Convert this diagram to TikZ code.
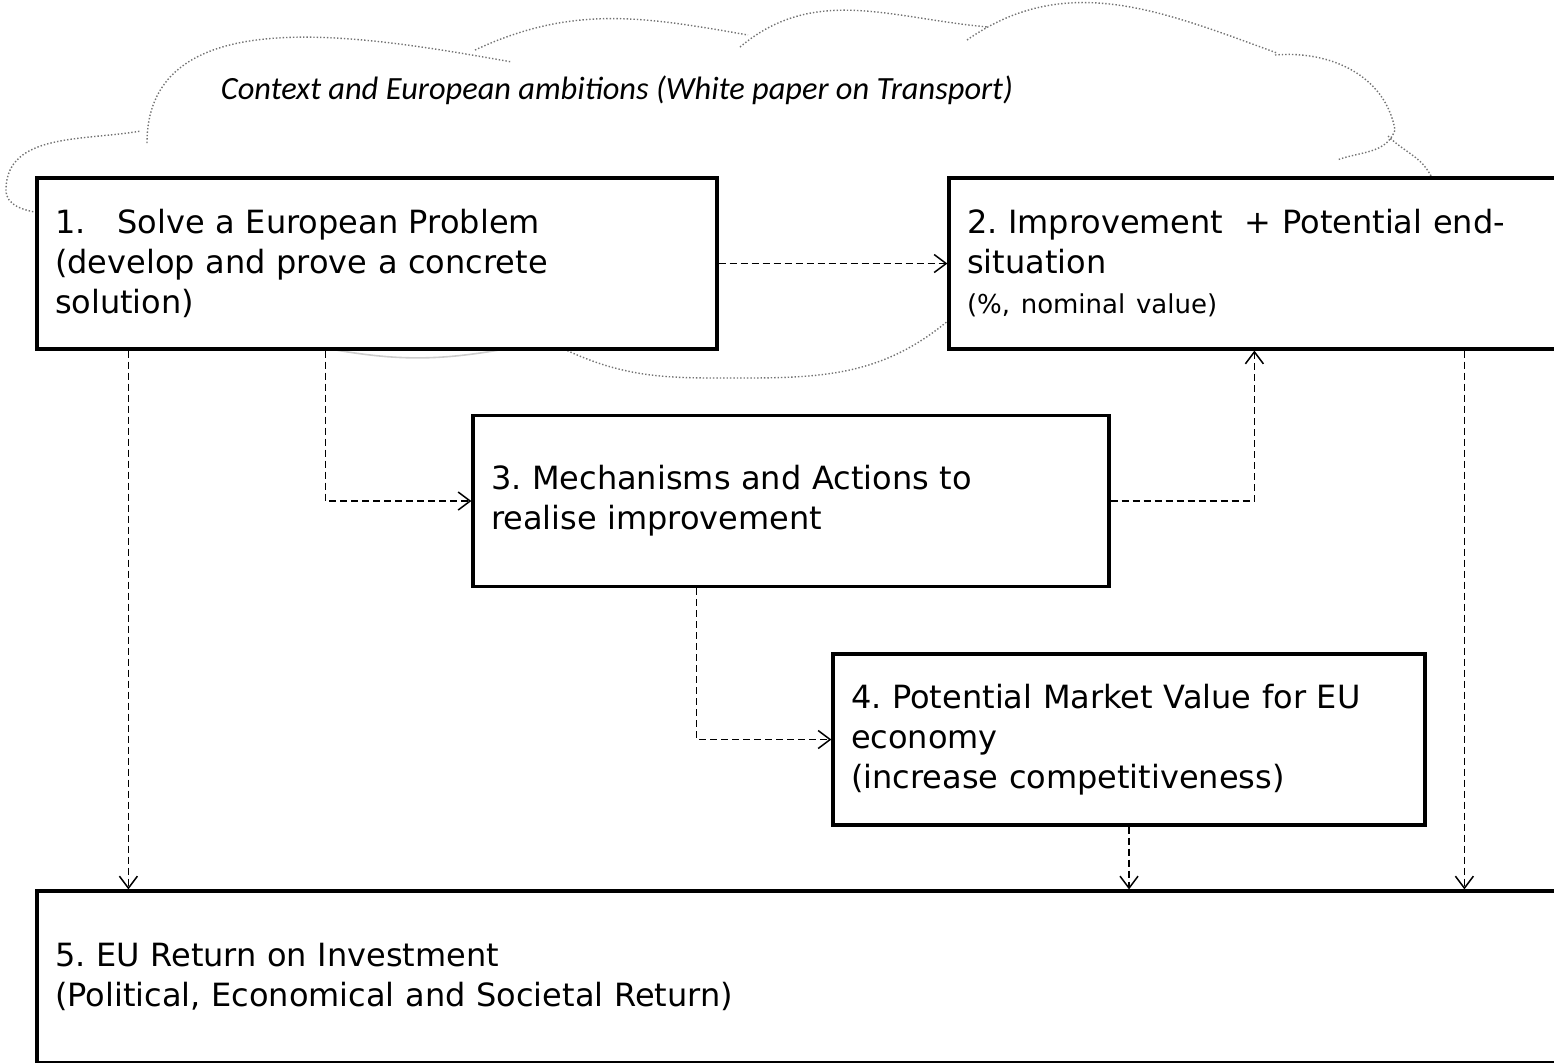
\documentclass[tikz,border=0pt]{standalone}
\usepackage{fontspec}
\setmainfont{DejaVu Sans}
\newfontfamily\cloudfont{Carlito}
\usetikzlibrary{arrows.meta}
\frenchspacing

\begin{document}
\begin{tikzpicture}
  [x=0.5pt,y=-0.5pt,
   stage/.style={draw,line width=1.6pt,fill=white,align=left,inner xsep=9pt,inner ysep=0pt,
     minimum height=85.5pt,font=\fontsize{16}{20}\selectfont},
   flow/.style={line width=0.75pt,dash pattern=on 3.5pt off 2pt,
     -{Straight Barb[length=6pt,width=9pt,line width=0.75pt]}},
   cloudline/.style={gray!90!black,densely dotted,line width=0.7pt}]
  \useasboundingbox (0,0) rectangle (1554,1062);
  \clip (0,0) rectangle (1554,1062);

  % cloud behind the boxes
  \draw[cloudline] (40,213) to[out=170,in=-90] (6,190) to[out=90,in=190] (141,131)
    (147,143) to[out=90,in=170] (512,62)
    (475,50) to[out=25,in=170] (748,35)
    (740,47) to[out=40,in=175] (988,27)
    (967,40) to[out=35,in=160] (1277,53)
    (1275,55) to[out=5,in=100] (1395,130) to[out=-110,in=20] (1337,160)
    (1388,136) to[out=-45,in=115] (1432,178)
    (949,320) to[out=-140,in=0] (745,378) to[out=180,in=-25] (566,350);
  \draw[gray!40,line width=0.8pt] (505,349) to[out=-170,in=-10] (330,349);
  \node[font=\cloudfont\itshape\fontsize{16.2}{19}\selectfont] (ctx) at (617,90)
    {Context and European ambitions (White paper on Transport)};

  \node[stage,text width=322pt] (s1) at (377,263.5)
    {1.\hspace{1em}Solve a European Problem\\(develop and prove a concrete\\solution)};
  \node[stage,text width=382pt] (s2) at (1349,263.5)
    {2. Improvement\ \ + Potential end-\\situation\\{\fontsize{13}{20}\selectfont(\%, nominal value)}};
  \node[stage,text width=300pt] (s3) at (791,501)
    {3. Mechanisms and Actions to\\realise improvement};
  \node[stage,text width=278pt] (s4) at (1129,739.5)
    {4. Potential Market Value for EU\\economy\\(increase competitiveness)};
  \node[stage,text width=813.5pt,minimum height=86pt] (s5) at (868.5,977)
    {5. EU Return on Investment\\(Political, Economical and Societal Return)};

  \coordinate (p13) at ([xshift=145pt]s1.south west);
  \coordinate (p15) at ([xshift=46.5pt]s1.south west);
  \coordinate (p32) at ([xshift=153.5pt]s2.south west);
  \coordinate (p25) at ([xshift=258.5pt]s2.south west);
  \coordinate (p34) at ([xshift=112.5pt]s3.south west);

  \foreach \from/\to in {s1.east/s2.west, p15/p15 |- s5.north, s4.south/s4.south |- s5.north, p25/p25 |- s5.north}
    \draw[flow] (\from) -- (\to);
  \draw[flow] (p13) |- (s3.west);
  \draw[flow] (s3.east) -| (p32);
  \draw[flow] (p34) |- (s4.west);

\end{tikzpicture}
\end{document}
